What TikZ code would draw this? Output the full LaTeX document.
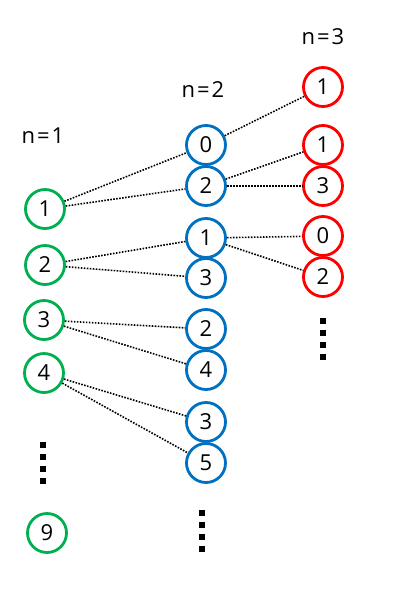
\documentclass[tikz,border=0pt]{standalone}
\usepackage{fontspec}
\setmainfont{Open Sans}
\definecolor{cgreen}{HTML}{00B050}
\definecolor{cblue}{HTML}{0070C0}
\definecolor{cred}{HTML}{FF0000}
\newcommand{\nlabel}[1]{n\kern2pt=\kern2pt#1}
\begin{document}
\begin{tikzpicture}[x=1pt,y=-1pt,
  circ/.style={circle,line width=2.8pt,minimum size=39pt,inner sep=0pt,font=\fontsize{22}{24}\selectfont},
  gnode/.style={circ,draw=cgreen},
  bnode/.style={circ,draw=cblue},
  rnode/.style={circ,draw=cred},
  lbl/.style={font=\fontsize{22}{26}\selectfont},
  edge/.style={line width=1.6pt,dash pattern=on 1.6pt off 1.4pt},
  sq/.style={fill=black,inner sep=0pt,minimum size=6pt}]
\useasboundingbox (0,0) rectangle (411,606);
\node[lbl] (l1) at (43,136) {\nlabel{1}};
\node[lbl] (l2) at (203,90) {\nlabel{2}};
\node[lbl] (l3) at (323,37) {\nlabel{3}};
% n=1
\node[gnode] (g1) at (45,209) {1};
\node[gnode] (g2) at (45,265) {2};
\node[gnode] (g3) at (44,320) {3};
\node[gnode] (g4) at (44,373) {4};
\node[gnode] (g9) at (47,533) {9};
% n=2
\node[bnode] (b0) at (206,145) {0};
\node[bnode] (b2) at (206,186) {2};
\node[bnode] (b1) at (206,238) {1};
\node[bnode] (b3) at (206,278) {3};
\node[bnode] (b2b) at (206,329) {2};
\node[bnode] (b4) at (206,370) {4};
\node[bnode] (b3b) at (206,422) {3};
\node[bnode] (b5) at (206,463) {5};
% n=3
\node[rnode] (r1a) at (323,87) {1};
\node[rnode] (r1) at (323,145) {1};
\node[rnode] (r3) at (323,186) {3};
\node[rnode] (r0) at (323,236) {0};
\node[rnode] (r2) at (323,277) {2};
% edges
\draw[edge] (g1) -- (b0);
\draw[edge] (g1) -- (b2);
\draw[edge] (g2) -- (b1);
\draw[edge] (g2) -- (b3);
\draw[edge] (g3) -- (b2b);
\draw[edge] (g3) -- (b4);
\draw[edge] (g4) -- (b3b);
\draw[edge] (g4) -- (b5);
\draw[edge] (b0) -- (r1a);
\draw[edge] (b2) -- (r1);
\draw[edge] (b2) -- (r3);
\draw[edge] (b1) -- (r0);
\draw[edge] (b1) -- (r2);
% vertical dots
\foreach \i/\y in {1/445,2/457,3/469,4/481} \node[sq] (dg\i) at (43,\y) {};
\foreach \i/\y in {1/513,2/525,3/537,4/549} \node[sq] (db\i) at (202,\y) {};
\foreach \i/\y in {1/321,2/333,3/345,4/357} \node[sq] (dr\i) at (323,\y) {};
\end{tikzpicture}
\end{document}
